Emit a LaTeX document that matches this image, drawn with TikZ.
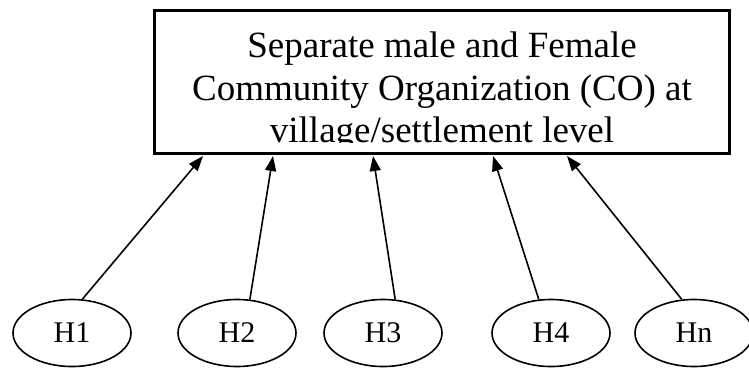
\documentclass[tikz,border=0pt]{standalone}
\usepackage{fontspec}
\setmainfont{Liberation Serif}
\usetikzlibrary{arrows.meta,shapes.geometric}
\begin{document}
\begin{tikzpicture}[x=1pt,y=-1pt,
  cobox/.style={draw, line width=3.5pt, minimum width=575pt, minimum height=143pt, inner sep=0pt},
  hh/.style={draw, ellipse, line width=1.6pt, minimum width=118pt, minimum height=67pt, inner sep=0pt, font=\fontsize{30pt}{34pt}\selectfont},
  colabel/.style={anchor=base, inner sep=0pt, font=\fontsize{37pt}{43pt}\selectfont},
  link/.style={line width=1.6pt, -{Triangle[length=15pt,width=11pt]}}]
\useasboundingbox (0,0) rectangle (749,368);
\node[cobox] (co) at (442,82) {};
\begin{scope}
\clip (156,11) rectangle (729,142);
\node[colabel] (l1) at (442,57) {Separate male and Female};
\node[colabel] (l2) at (442,100) {Community Organization (CO) at};
\node[colabel] (l3) at (442,142.5) {village/settlement level};
\end{scope}
\node[hh] (h1) at (72,333) {H1};
\node[hh] (h2) at (237,333) {H2};
\node[hh] (h3) at (383,333) {H3};
\node[hh] (h4) at (551,333) {H4};
\node[hh] (hn) at (694,333) {Hn};
\coordinate (t1) at (203,156);
\coordinate (t2) at (273,156);
\coordinate (t3) at (373,156);
\coordinate (t4) at (493,156);
\coordinate (t5) at (567,156);
\draw[link] (h1.73) -- (t1);
\draw[link] (h2.69) -- (t2);
\draw[link] (h3.70) -- (t3);
\draw[link] (h4.110) -- (t4);
\draw[link] (hn.110) -- (t5);
\end{tikzpicture}
\end{document}
